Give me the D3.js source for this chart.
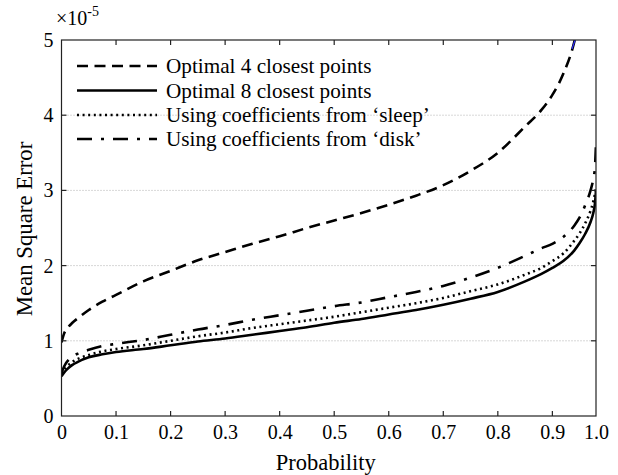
<!DOCTYPE html>
<html>
<head>
<meta charset="utf-8">
<script src="https://cdn.jsdelivr.net/npm/d3@7"></script>
<style>
  html, body { margin: 0; padding: 0; background: #fff; }
  svg { display: block; }
  text { font-family: "Liberation Serif", "Times New Roman", serif; fill: #000; }
</style>
</head>
<body>
<svg id="chart" width="618" height="475"></svg>
<script>
// Probability levels at which the error curves were sampled
const probability = [0, 0.005, 0.01, 0.02, 0.03, 0.05, 0.075, 0.1, 0.15, 0.2, 0.25, 0.3, 0.35, 0.4, 0.45, 0.5, 0.55, 0.6, 0.65, 0.7, 0.75, 0.8, 0.85, 0.88, 0.9, 0.92, 0.94, 0.95, 0.96, 0.97, 0.975, 0.978, 0.98];

// Mean square error (units of 1e-5)
const optimal4 = [0.98, 1.1, 1.16, 1.24, 1.3, 1.41, 1.52, 1.61, 1.79, 1.93, 2.07, 2.18, 2.29, 2.39, 2.5, 2.6, 2.7, 2.81, 2.93, 3.07, 3.26, 3.5, 3.85, 4.07, 4.27, 4.55, 4.97, 5.3, 5.7, 6.2, 6.6, 6.8, 7.0];
const optimal8 = [0.53, 0.58, 0.62, 0.68, 0.72, 0.78, 0.82, 0.85, 0.89, 0.94, 0.99, 1.03, 1.08, 1.13, 1.18, 1.24, 1.29, 1.35, 1.41, 1.48, 1.56, 1.65, 1.79, 1.89, 1.97, 2.06, 2.2, 2.3, 2.42, 2.58, 2.7, 2.82, 3.0];
const coeffSleep = [0.56, 0.62, 0.66, 0.72, 0.76, 0.81, 0.86, 0.89, 0.94, 1.0, 1.06, 1.11, 1.17, 1.22, 1.27, 1.32, 1.38, 1.44, 1.5, 1.57, 1.66, 1.75, 1.88, 1.97, 2.06, 2.16, 2.33, 2.43, 2.56, 2.73, 2.85, 2.95, 3.05];
const coeffDisk = [0.57, 0.66, 0.72, 0.79, 0.83, 0.88, 0.93, 0.96, 1.01, 1.08, 1.15, 1.21, 1.28, 1.34, 1.4, 1.46, 1.51, 1.58, 1.65, 1.73, 1.84, 1.97, 2.13, 2.23, 2.29, 2.38, 2.53, 2.64, 2.8, 3.0, 3.15, 3.3, 3.63];
// Short blue trace showing at the top edge of the plot
const blueProb = [0.936, 0.944];
const blueValue = [4.88, 5.05];

const xTicks = [0, 0.1, 0.2, 0.3, 0.4, 0.5, 0.6, 0.7, 0.8, 0.9, 0.98];
const xTickLabels = ["0", "0.1", "0.2", "0.3", "0.4", "0.5", "0.6", "0.7", "0.8", "0.9", "1.0"];
const yTicks = [0, 1, 2, 3, 4, 5];
const yGrid = [1, 2, 3, 4];

const seriesNames = ["Optimal 4 closest points", "Optimal 8 closest points", "Using coefficients from \u2018sleep\u2019", "Using coefficients from \u2018disk\u2019"];
const seriesValues = [optimal4, optimal8, coeffSleep, coeffDisk];
const seriesDash = ["11,6.5", null, "2,3.6", "15,9,3,9"];

const svg = d3.select("#chart");
const plotL = 61.5, plotR = 596, plotT = 40, plotB = 416;

const x = d3.scaleLinear().domain([0, 0.98]).range([plotL, plotR]);
const y = d3.scaleLinear().domain([0, 5]).range([plotB, plotT]);

svg.append("defs").append("clipPath").attr("id", "plot")
  .append("rect").attr("x", plotL).attr("y", plotT).attr("width", plotR - plotL).attr("height", plotB - plotT);

// dotted horizontal grid
svg.append("g").selectAll("line").data(yGrid).join("line")
  .attr("x1", plotL).attr("x2", plotR)
  .attr("y1", d => y(d)).attr("y2", d => y(d))
  .attr("stroke", "#b0b0b0").attr("stroke-width", 1).attr("stroke-dasharray", "1,2");

const line = d3.line().x(d => x(d[0])).y(d => y(d[1])).curve(d3.curveMonotoneX);

const plot = svg.append("g").attr("clip-path", "url(#plot)");
seriesValues.forEach((vals, i) => {
  plot.append("path")
    .datum(d3.zip(probability, vals))
    .attr("d", line)
    .attr("fill", "none")
    .attr("stroke", "#000")
    .attr("stroke-width", 2.6)
    .attr("stroke-dasharray", seriesDash[i]);
});
plot.append("path")
  .datum(d3.zip(blueProb, blueValue))
  .attr("d", line).attr("fill", "none").attr("stroke", "#3030ff").attr("stroke-width", 1.2);

// axes box with inward ticks
const axisColor = "#222";
const tickLen = 5;
const axG = svg.append("g").attr("stroke", axisColor).attr("stroke-width", 1.2);
axG.append("rect").attr("x", plotL).attr("y", plotT).attr("width", plotR - plotL).attr("height", plotB - plotT).attr("fill", "none");

const xAxis = d3.axisBottom(x).tickValues(xTicks).tickFormat((d, i) => xTickLabels[i]).tickSize(0).tickPadding(9);
const gx = svg.append("g").attr("transform", `translate(0,${plotB})`).call(xAxis);
gx.select(".domain").remove();
gx.selectAll("text").attr("font-size", 20).attr("font-family", "Liberation Serif");

const yAxis = d3.axisLeft(y).tickValues(yTicks).tickFormat(d3.format("d")).tickSize(0).tickPadding(8);
const gy = svg.append("g").attr("transform", `translate(${plotL},0)`).call(yAxis);
gy.select(".domain").remove();
gy.selectAll("text").attr("font-size", 20).attr("font-family", "Liberation Serif");

const innerX = xTicks.slice(1, -1);
axG.selectAll(".tb").data(innerX).join("line").attr("class", "tb")
  .attr("x1", d => x(d)).attr("x2", d => x(d)).attr("y1", plotB).attr("y2", plotB - tickLen);
axG.selectAll(".tt").data(innerX).join("line").attr("class", "tt")
  .attr("x1", d => x(d)).attr("x2", d => x(d)).attr("y1", plotT).attr("y2", plotT + tickLen);
axG.selectAll(".tl").data(yGrid).join("line").attr("class", "tl")
  .attr("x1", plotL).attr("x2", plotL + tickLen).attr("y1", d => y(d)).attr("y2", d => y(d));
axG.selectAll(".tr").data(yGrid).join("line").attr("class", "tr")
  .attr("x1", plotR).attr("x2", plotR - tickLen).attr("y1", d => y(d)).attr("y2", d => y(d));

// exponent label
const expo = svg.append("text").attr("x", 56).attr("y", 25).attr("font-size", 20);
expo.append("tspan").text("\u00d710");
expo.append("tspan").attr("font-size", 14).attr("dy", -9).text("-5");

// axis titles
svg.append("text").attr("x", (plotL + plotR) / 2 - 3).attr("y", 470)
  .attr("text-anchor", "middle").attr("font-size", 22.5).text("Probability");
svg.append("text").attr("transform", `translate(32,${(plotT + plotB) / 2 + 1}) rotate(-90)`)
  .attr("text-anchor", "middle").attr("font-size", 22.8).text("Mean Square Error");

// legend
const legY = [66, 90.5, 115, 139];
const leg = svg.append("g");
seriesNames.forEach((name, i) => {
  leg.append("line").attr("x1", 77).attr("x2", 157).attr("y1", legY[i]).attr("y2", legY[i])
    .attr("stroke", "#000").attr("stroke-width", 2.6).attr("stroke-dasharray", seriesDash[i]);
  leg.append("text").attr("x", 166).attr("y", legY[i] + 7).attr("font-size", 21.2).text(name);
});
</script>
</body>
</html>
